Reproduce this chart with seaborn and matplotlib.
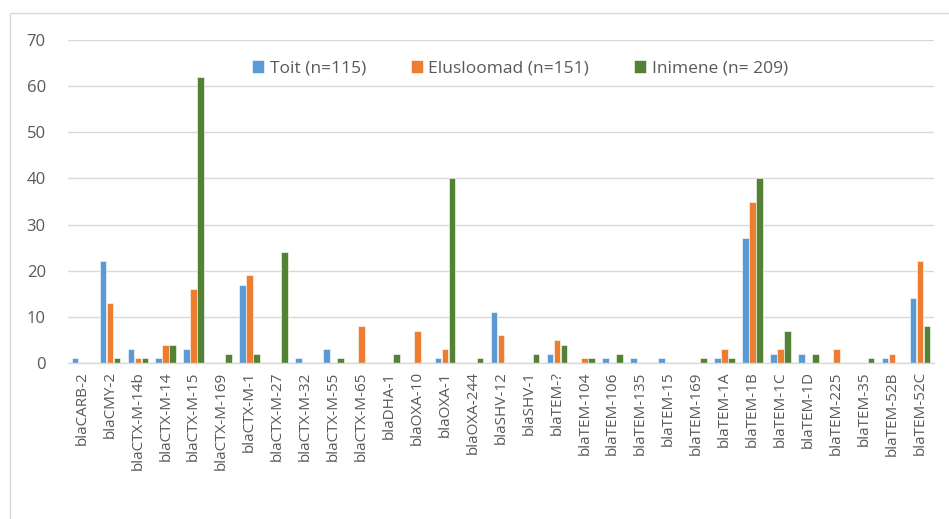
import matplotlib
matplotlib.use("Agg")
import matplotlib.pyplot as plt
import seaborn as sns
import pandas as pd
from matplotlib.patches import Rectangle

genes = ["blaCARB-2", "blaCMY-2", "blaCTX-M-14b", "blaCTX-M-14", "blaCTX-M-15",
         "blaCTX-M-169", "blaCTX-M-1", "blaCTX-M-27", "blaCTX-M-32", "blaCTX-M-55",
         "blaCTX-M-65", "blaDHA-1", "blaOXA-10", "blaOXA-1", "blaOXA-244",
         "blaSHV-12", "blaSHV-1", "blaTEM-?", "blaTEM-104", "blaTEM-106",
         "blaTEM-135", "blaTEM-15", "blaTEM-169", "blaTEM-1A", "blaTEM-1B",
         "blaTEM-1C", "blaTEM-1D", "blaTEM-225", "blaTEM-35", "blaTEM-52B",
         "blaTEM-52C"]

toit = [1, 22, 3, 1, 3, 0, 17, 0, 1, 3, 0, 0, 0, 1, 0, 11, 0, 2, 0, 1,
        1, 1, 0, 1, 27, 2, 2, 0, 0, 1, 14]
elusloomad = [0, 13, 1, 4, 16, 0, 19, 0, 0, 0, 8, 0, 7, 3, 0, 6, 0, 5, 1, 0,
              0, 0, 0, 3, 35, 3, 0, 3, 0, 2, 22]
inimene = [0, 1, 1, 4, 62, 2, 2, 24, 0, 1, 0, 2, 0, 40, 1, 0, 2, 4, 1, 2,
           0, 0, 1, 1, 40, 7, 2, 0, 1, 0, 8]

series_names = ["Toit (n=115)", "Elusloomad (n=151)", "Inimene (n= 209)"]
colors = ["#5B9BD5", "#ED7D31", "#548235"]

df = pd.DataFrame({"gene": genes * 3,
                   "value": toit + elusloomad + inimene,
                   "series": [s for s, vals in zip(series_names, [toit, elusloomad, inimene])
                              for _ in vals]})

sns.set_theme(style="white")
plt.rcParams["font.family"] = ["Open Sans", "DejaVu Sans"]

fig = plt.figure(figsize=(9.49, 5.19), dpi=100)
ax = fig.add_axes([68 / 949, 1 - 363 / 519, (934 - 68) / 949, (363 - 40) / 519])

sns.barplot(data=df, x="gene", y="value", hue="series", order=genes,
            hue_order=series_names, palette=colors, width=0.75, gap=0.05,
            saturation=1, edgecolor="white", linewidth=0.4, ax=ax)

ax.set_ylim(0, 70)
ax.set_xlim(-0.5, len(genes) - 0.5)
ax.set_yticks(range(0, 71, 10))
ax.yaxis.grid(True, color="#D9D9D9", linewidth=1)
ax.set_axisbelow(True)
for side in ["top", "right", "left"]:
    ax.spines[side].set_visible(False)
ax.spines["bottom"].set_color("#D9D9D9")
ax.spines["bottom"].set_linewidth(1)
ax.set_xlabel("")
ax.set_ylabel("")
ax.tick_params(axis="y", length=0, pad=16, labelsize=12, labelcolor="#595959")
ax.tick_params(axis="x", length=0, pad=6, labelsize=11, labelcolor="#595959",
               labelrotation=90)

leg = ax.legend(loc="upper center", bbox_to_anchor=(0.522, 0.985), ncol=3,
                frameon=False, fontsize=12.5, handlelength=0.7, handleheight=0.7,
                handletextpad=0.3, columnspacing=2.6)
for t in leg.get_texts():
    t.set_color("#595959")

fig.patches.append(Rectangle((10 / 949, -0.1), 1.2, 1 - 12.5 / 519 + 0.1,
                             transform=fig.transFigure, fill=False,
                             edgecolor="#D9D9D9", linewidth=1, zorder=-1))

fig.savefig("out.png", dpi=100)
